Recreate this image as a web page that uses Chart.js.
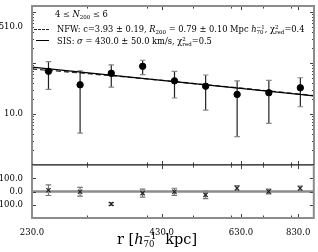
<!DOCTYPE html>
<html>
<head>
<meta charset="utf-8">
<script src="https://cdn.jsdelivr.net/npm/chart.js@4.4.0/dist/chart.umd.min.js"></script>
<style>
  html, body { margin: 0; padding: 0; background: #fff; }
  #wrap { position: relative; width: 318px; height: 252px; overflow: hidden; font-family: "DejaVu Serif", serif; color: #000; }
  #cTop { position: absolute; left: 0; top: 0; }
  #cBot { position: absolute; left: 0; top: 159px; }
  .t { position: absolute; white-space: nowrap; font-size: 8.3px; line-height: 1; }
  .t i { font-style: italic; }
  .s { display: inline-block; vertical-align: -2px; font-size: 5.5px; line-height: 1; }
  .ss { display: inline-block; vertical-align: -2px; line-height: 0.9; font-size: 5.5px; text-align: left; }
  .ss span { display: block; }
  .dash { position: absolute; left: 34px; width: 15px; border-top: 1.3px dashed #222; }
  .solid { position: absolute; left: 36px; width: 13px; border-top: 1.3px solid #000; }
  #xlab { position: absolute; left: 117px; top: 231px; font-size: 14.5px; white-space: nowrap; }
  #xlab .ss { font-size: 8.5px; vertical-align: -3px; }
</style>
</head>
<body>
<div id="wrap">
  <canvas id="cTop" width="319" height="171"></canvas>
  <canvas id="cBot" width="319" height="93"></canvas>

  <div class="t" style="left:55px;top:10px">4 &le; <i>N</i><span class="s">200</span> &le; 6</div>
  <div class="dash" style="top:29px"></div>
  <div class="t" style="left:57px;top:25px">NFW: c=3.93 &plusmn; 0.19, <i>R</i><span class="s">200</span> = 0.79 &plusmn; 0.10 Mpc <i>h</i><span class="ss"><span>&minus;1</span><span>70</span></span>, &chi;<span class="ss"><span>2</span><span>red</span></span>=0.4</div>
  <div class="solid" style="top:40px"></div>
  <div class="t" style="left:57px;top:37px">SIS: <i>&sigma;</i> = 430.0 &plusmn; 50.0 km/s, &chi;<span class="ss"><span>2</span><span>red</span></span>=0.5</div>

  <div id="xlab">r [<i>h</i><span class="ss"><span>&minus;1</span><span>70</span></span>&nbsp; kpc]</div>
</div>

<script>
// measured profile (radius in kpc)
const radii = [249, 290, 337, 392, 457, 531, 618, 720, 838];
const sigma = [68.4, 37.2, 62.5, 85.7, 44.5, 34.9, 24.1, 26.0, 32.5];
const sigmaErr = [38, 33, 29, 27, 24, 23, 20.5, 19.5, 18.7];

// residuals, lower panel
const residual = [10, -2, -94, -12, -2, -25, 25, 0, 25];
const residualErr = [40, 33, 11, 30, 27, 28, 20, 18, 17];

// model curves
const nfwR = [230, 300, 400, 500, 600, 700, 800, 895];
const nfw = [76, 62, 48.5, 39.5, 33.5, 29, 25.5, 22.8];
const sisR = [230, 895];
const sis = [83, 22.5];
const zeroR = [230, 895];
const zero = [0, 0];

// ticks
const xLabelTicks = [230, 430, 630, 830];
const xMinorTicks = [300, 400, 500, 600, 700, 800];
const yTopLabels = [10, 510];
const yTopMajor = [10, 100, 1000];
const yTopMinor = [2, 3, 4, 5, 6, 7, 8, 9, 20, 30, 40, 50, 60, 70, 80, 90, 200, 300, 400, 500, 600, 700, 800, 900];
const yBotLabels = [-100, 0, 100];

const pts = (xs, ys) => xs.map((x, i) => ({ x: x, y: ys[i] }));
const tickFont = { family: 'DejaVu Serif', size: 8.5 };

const errorBars = {
  id: 'errorBars',
  beforeDatasetsDraw(chart) {
    const { ctx, scales: { x, y } } = chart;
    ctx.save();
    chart.data.datasets.forEach(ds => {
      if (!ds.errors) return;
      ds.data.forEach((p, i) => {
        const px = x.getPixelForValue(p.x);
        const top = y.getPixelForValue(p.y + ds.errors[i]);
        const bot = y.getPixelForValue(Math.max(p.y - ds.errors[i], y.min));
        ctx.lineWidth = 1.2;
        ctx.strokeStyle = ds.stemColor;
        ctx.beginPath(); ctx.moveTo(px, top); ctx.lineTo(px, bot); ctx.stroke();
        ctx.strokeStyle = ds.capColor;
        ctx.beginPath();
        ctx.moveTo(px - 2.8, top); ctx.lineTo(px + 2.8, top);
        ctx.moveTo(px - 2.8, bot); ctx.lineTo(px + 2.8, bot);
        ctx.stroke();
      });
    });
    ctx.restore();
  }
};

const frame = {
  id: 'frame',
  afterDraw(chart, args, o) {
    const { ctx, chartArea: a, scales: { x, y } } = chart;
    ctx.save();
    ctx.strokeStyle = '#444';
    ctx.lineWidth = 1;
    const xt = (v, len) => {
      const px = Math.round(x.getPixelForValue(v)) + 0.5;
      ctx.beginPath();
      ctx.moveTo(px, a.top); ctx.lineTo(px, a.top + len);
      ctx.moveTo(px, a.bottom); ctx.lineTo(px, a.bottom - len);
      ctx.stroke();
    };
    const yt = (v, len) => {
      const py = Math.round(y.getPixelForValue(v)) + 0.5;
      ctx.beginPath();
      ctx.moveTo(a.left, py); ctx.lineTo(a.left + len, py);
      ctx.moveTo(a.right, py); ctx.lineTo(a.right - len, py);
      ctx.stroke();
    };
    xLabelTicks.forEach(v => xt(v, 4));
    xMinorTicks.forEach(v => xt(v, 2.5));
    (o.yMajor || []).forEach(v => yt(v, 4));
    (o.yMinor || []).forEach(v => yt(v, 2));

    ctx.strokeStyle = '#8c8c8c';
    ctx.lineWidth = 2;
    ctx.beginPath();
    ctx.moveTo(a.left, o.sepBottom ? a.bottom : a.top);
    ctx.lineTo(a.left, o.sepBottom ? a.top : a.bottom);
    ctx.lineTo(a.right, o.sepBottom ? a.top : a.bottom);
    ctx.lineTo(a.right, o.sepBottom ? a.bottom : a.top);
    ctx.stroke();
    if (o.sepBottom) {
      ctx.strokeStyle = '#111';
      ctx.lineWidth = 1.3;
      ctx.beginPath(); ctx.moveTo(a.left, a.bottom); ctx.lineTo(a.right, a.bottom); ctx.stroke();
    }
    ctx.restore();
  }
};

new Chart(document.getElementById('cTop'), {
  type: 'scatter',
  data: {
    datasets: [
      { label: 'data', data: pts(radii, sigma), errors: sigmaErr, stemColor: '#222', capColor: '#888',
        pointRadius: 3.2, backgroundColor: '#000', borderColor: '#000' },
      { label: 'SIS', type: 'line', data: pts(sisR, sis), borderColor: '#000', borderWidth: 1.3, pointRadius: 0, fill: false },
      { label: 'NFW', type: 'line', data: pts(nfwR, nfw), borderColor: '#333', borderWidth: 1.3, borderDash: [5, 3], pointRadius: 0, fill: false }
    ]
  },
  options: {
    responsive: false,
    animation: false,
    layout: { padding: { top: 4, right: 4, bottom: 1, left: 0 } },
    plugins: { legend: { display: false }, tooltip: { enabled: false },
      frame: { yMajor: yTopMajor, yMinor: yTopMinor, sepBottom: true } },
    scales: {
      x: { type: 'logarithmic', min: 230, max: 895, display: false },
      y: {
        type: 'logarithmic', min: 1, max: 1300,
        afterFit: s => { s.width = 32; },
        afterBuildTicks: s => { s.ticks = yTopLabels.map(v => ({ value: v })); },
        ticks: { callback: v => Number(v).toFixed(1), font: tickFont, color: '#000', padding: 1, autoSkip: false },
        grid: { display: false }, border: { display: false }
      }
    }
  },
  plugins: [errorBars, frame]
});

new Chart(document.getElementById('cBot'), {
  type: 'scatter',
  data: {
    datasets: [
      { label: 'residual', data: pts(radii, residual), errors: residualErr, stemColor: '#777', capColor: '#777',
        pointStyle: 'crossRot', pointRadius: 3, borderWidth: 1.2, borderColor: '#222', backgroundColor: '#222' },
      { label: 'zero', type: 'line', data: pts(zeroR, zero), borderColor: '#8c8c8c', borderWidth: 2.5, pointRadius: 0, fill: false }
    ]
  },
  options: {
    responsive: false,
    animation: false,
    layout: { padding: { top: 0, right: 4, bottom: 0, left: 0 } },
    plugins: { legend: { display: false }, tooltip: { enabled: false },
      frame: { yMajor: yBotLabels, yMinor: [], sepBottom: false } },
    scales: {
      x: {
        type: 'logarithmic', min: 230, max: 895,
        afterFit: s => { s.height = 34; },
        afterBuildTicks: s => { s.ticks = xLabelTicks.map(v => ({ value: v })); },
        ticks: { callback: v => Number(v).toFixed(1), font: tickFont, color: '#000', padding: 2, maxRotation: 0, autoSkip: false },
        grid: { display: false }, border: { display: false }
      },
      y: {
        min: -200, max: 200,
        afterFit: s => { s.width = 32; },
        afterBuildTicks: s => { s.ticks = yBotLabels.map(v => ({ value: v })); },
        ticks: { callback: v => Number(v).toFixed(1), font: tickFont, color: '#000', padding: 1 },
        grid: { display: false }, border: { display: false }
      }
    }
  },
  plugins: [errorBars, frame]
});
</script>
</body>
</html>
